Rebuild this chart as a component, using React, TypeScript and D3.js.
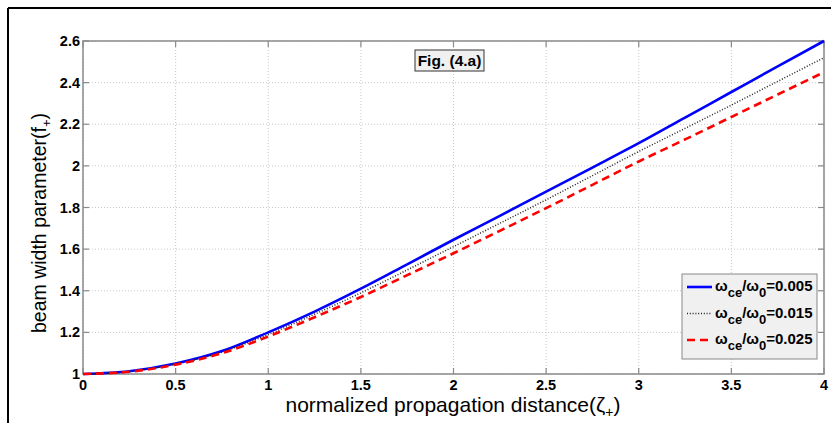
import React from "react";
import * as d3 from "d3";

const zeta = [0, 0.25, 0.5, 0.75, 1, 1.25, 1.5, 1.75, 2, 2.25, 2.5, 2.75, 3, 3.25, 3.5, 3.75, 4];
const fBlue = [1, 1.013, 1.05, 1.11, 1.2, 1.3, 1.41, 1.527, 1.645, 1.76, 1.876, 1.992, 2.109, 2.232, 2.355, 2.478, 2.6];
const fBlack = [1, 1.012, 1.048, 1.105, 1.19, 1.287, 1.39, 1.5, 1.612, 1.724, 1.837, 1.953, 2.069, 2.18, 2.292, 2.406, 2.52];
const fRed = [1, 1.011, 1.045, 1.1, 1.18, 1.273, 1.37, 1.475, 1.58, 1.688, 1.797, 1.909, 2.021, 2.127, 2.235, 2.343, 2.45];
const xTicks = [0, 0.5, 1, 1.5, 2, 2.5, 3, 3.5, 4];
const yTicks = [1, 1.2, 1.4, 1.6, 1.8, 2, 2.2, 2.4, 2.6];
const legendValues = ["0.005", "0.015", "0.025"];

const W = 831, H = 423;
const left = 83, right = 824, top = 41, bottom = 374;
const FONT = "'Liberation Sans', Arial, Helvetica, sans-serif";

export default function App() {
  const x = d3.scaleLinear().domain([0, 4]).range([left, right]);
  const y = d3.scaleLinear().domain([1, 2.6]).range([bottom, top]);
  const line = (vals: number[]) =>
    d3.line<number>().x((_, i) => x(zeta[i])).y((v) => y(v)).curve(d3.curveMonotoneX)(vals) || "";

  const series = [
    { vals: fBlue, color: "#0000ff", width: 2.6, dash: "none" },
    { vals: fBlack, color: "#222", width: 1.5, dash: "1,1.8" },
    { vals: fRed, color: "#ff0000", width: 2.6, dash: "8,5" },
  ];
  const axisColor = "#8a8a8a";
  const gridColor = "#c8c8c8";

  return (
    <svg width={W} height={H} style={{ position: "absolute", left: 0, top: 0, background: "#fff" }} fontFamily={FONT}>
      <rect x={0} y={0} width={W} height={H} fill="#fff" />
      {/* outer frame lines */}
      <line x1={8} y1={8} x2={W} y2={8} stroke="#000" strokeWidth={2} />
      <line x1={8} y1={8} x2={8} y2={H} stroke="#000" strokeWidth={2} />
      {/* grid */}
      {xTicks.map((t) => (
        <line key={"gx" + t} x1={x(t)} x2={x(t)} y1={top} y2={bottom} stroke={gridColor} strokeWidth={1} strokeDasharray="1,2" />
      ))}
      {yTicks.map((t) => (
        <line key={"gy" + t} x1={left} x2={right} y1={y(t)} y2={y(t)} stroke={gridColor} strokeWidth={1} strokeDasharray="1,2" />
      ))}
      {/* axes box */}
      <rect x={left} y={top} width={right - left} height={bottom - top} fill="none" stroke={axisColor} strokeWidth={1.5} />
      {/* ticks */}
      {xTicks.map((t) => (
        <g key={"tx" + t}>
          <line x1={x(t)} x2={x(t)} y1={bottom} y2={bottom - 6} stroke={axisColor} strokeWidth={1.2} />
          <line x1={x(t)} x2={x(t)} y1={top} y2={top + 6} stroke={axisColor} strokeWidth={1.2} />
          <text x={x(t)} y={bottom + 15.5} textAnchor="middle" fontSize={14.5} fontWeight="bold" fill="#000">
            {String(t)}
          </text>
        </g>
      ))}
      {yTicks.map((t) => (
        <g key={"ty" + t}>
          <line x1={left} x2={left + 6} y1={y(t)} y2={y(t)} stroke={axisColor} strokeWidth={1.2} />
          <line x1={right} x2={right - 6} y1={y(t)} y2={y(t)} stroke={axisColor} strokeWidth={1.2} />
          <text x={left - 3} y={y(t) + 5} textAnchor="end" fontSize={14.5} fontWeight="bold" fill="#000">
            {String(+t.toFixed(1))}
          </text>
        </g>
      ))}
      {/* lines */}
      {series.map((s, i) => (
        <path key={i} d={line(s.vals)} fill="none" stroke={s.color} strokeWidth={s.width} strokeDasharray={s.dash} />
      ))}
      {/* axis labels */}
      <text x={453} y={411.5} textAnchor="middle" fontSize={21} fill="#000">
        normalized propagation distance(ζ<tspan fontSize={14} dy={5}>+</tspan><tspan dy={-5}>)</tspan>
      </text>
      <text transform={`translate(46,223) rotate(-90)`} textAnchor="middle" fontSize={19.5} fill="#000">
        beam width parameter(f<tspan fontSize={13} dy={5}>+</tspan><tspan dy={-5}>)</tspan>
      </text>
      {/* title box */}
      <rect x={415} y={50} width={69} height={21} fill="#f0f0f0" stroke="#333" strokeWidth={1} />
      <text x={449.5} y={66} textAnchor="middle" fontSize={15.5} fontWeight="bold" fill="#000">
        Fig. (4.a)
      </text>
      {/* legend */}
      <rect x={682} y={274} width={135} height={85} fill="#f0f0f0" stroke="#888" strokeWidth={1} />
      {series.map((s, i) => {
        const ly = 287 + i * 26.5;
        return (
          <g key={"lg" + i}>
            <line x1={687} x2={712} y1={ly} y2={ly} stroke={s.color} strokeWidth={s.width} strokeDasharray={s.dash} />
            <text x={715} y={ly + 4} fontSize={15} fontWeight="bold" fill="#000">
              ω<tspan fontSize={13} dy={6}>ce</tspan>
              <tspan dy={-6}>/ω</tspan>
              <tspan fontSize={13} dy={6}>0</tspan>
              <tspan dy={-6}>={legendValues[i]}</tspan>
            </text>
          </g>
        );
      })}
    </svg>
  );
}
